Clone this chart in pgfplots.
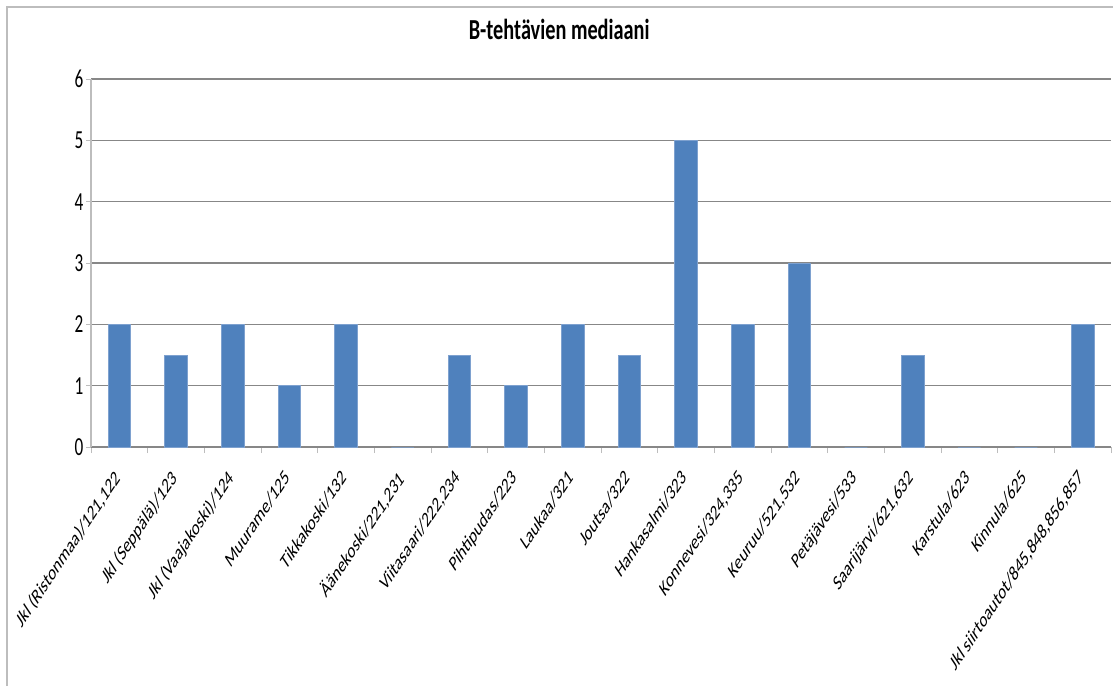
\documentclass[border=0pt]{standalone}
\usepackage{fontspec}
\setmainfont{Carlito}
\usepackage{pgfplots}
\pgfplotsset{compat=1.18}
\definecolor{barblue}{HTML}{4F81BD}
\definecolor{baredge}{HTML}{7EA1CF}
\definecolor{gridgray}{HTML}{878787}
\definecolor{axisgray}{HTML}{BDBDBD}

\begin{document}
\begin{tikzpicture}[x=1pt,y=1pt]
\useasboundingbox (0,0) rectangle (1113,686);
% chart frame
\draw[axisgray, line width=1.3pt] (7,0) -- (7,679) -- (1113,679);
\begin{axis}[
  at={(91pt,239pt)}, anchor=south west,
  scale only axis, width=1020pt, height=368pt,
  xmin=-0.5, xmax=17.5, ymin=0, ymax=6,
  axis x line*=bottom, axis y line*=left,
  axis line style={axisgray, line width=1.2pt},
  x axis line style={gridgray, line width=1.2pt},
  ymajorgrids, grid style={gridgray, line width=1.1pt},
  tick align=outside,
  major tick length=5pt, minor tick length=6pt,
  tick style={axisgray, line width=1pt},
  major x tick style={draw=none},
  ytick={0,1,...,6},
  minor xtick={-0.5,0.5,...,17.5},
  xtick={0,1,...,17},
  xticklabels={{Jkl (Ristonmaa)/121,122},{Jkl (Seppälä)/123},{Jkl (Vaajakoski)/124},{Muurame/125},{Tikkakoski/132},{Äänekoski/221,231},{Viitasaari/222,234},{Pihtipudas/223},{Laukaa/321},{Joutsa/322},{Hankasalmi/323},{Konnevesi/324,335},{Keuruu/521,532},{Petäjävesi/533},{Saarijärvi/621,632},{Karstula/623},{Kinnula/625},{Jkl siirtoautot/845,848,856,857}},
  /pgf/number format/assume math mode=true,
  yticklabel style={font=\fontsize{26}{29}\selectfont, xscale=0.66, inner sep=4pt},
  % category names: turned by 45 degrees, then narrowed horizontally
  xticklabel style={font=\fontsize{21.5}{24}\selectfont, anchor=north east, inner sep=0pt,
    xshift=-6pt, cm={0.47,0.707,-0.47,0.707,(0,0)}},
  xticklabel shift=16pt,
  title={B-tehtävien mediaani},
  title style={font=\fontsize{29}{32}\selectfont\bfseries, xscale=0.70,
    anchor=base, at={(axis description cs:0.459,1.0897)}},
  ybar, bar width=22.6pt,
]
\addplot[fill=barblue, draw=baredge, line width=0.8pt] coordinates {
  (0,2) (1,1.5) (2,2) (3,1) (4,2) (5,0) (6,1.5) (7,1) (8,2)
  (9,1.5) (10,5) (11,2) (12,3) (13,0) (14,1.5) (15,0) (16,0) (17,2)
};
\end{axis}
\end{tikzpicture}
\end{document}
